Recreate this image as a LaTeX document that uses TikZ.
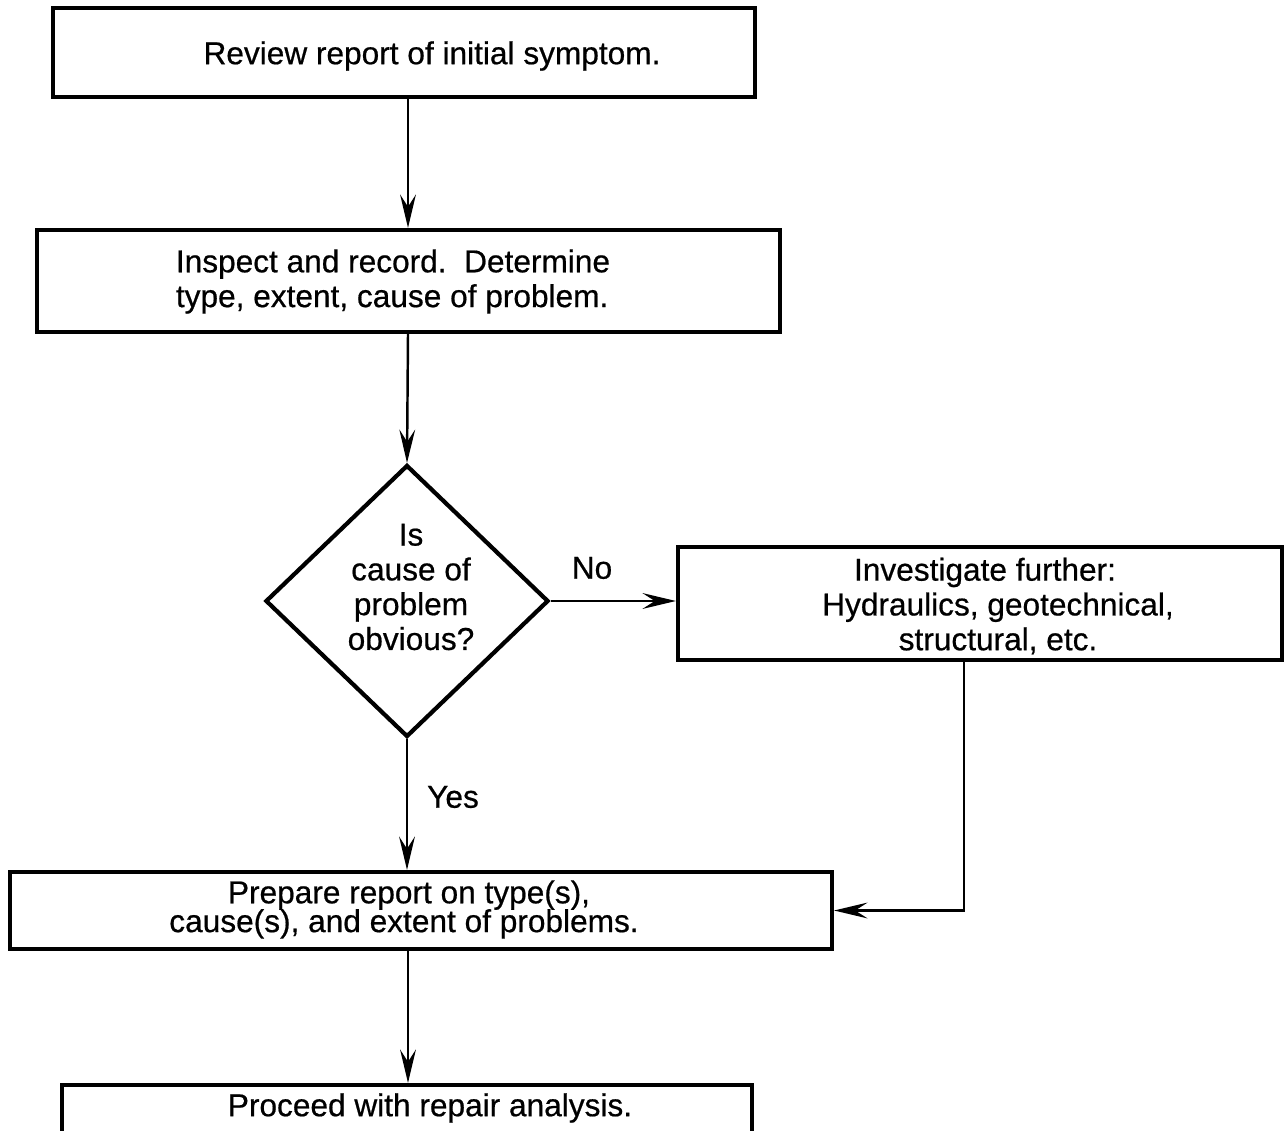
\documentclass[tikz,border=0pt]{standalone}
\usepackage{fontspec}
\setmainfont[FakeBold=0.6]{Liberation Sans}
\usetikzlibrary{shapes.geometric,arrows.meta}
% allow lines of a node to sit closer than their glyph heights
\newcommand\flowtight{\lineskiplimit=-30pt\relax}
\newcommand\flowfont{\fontsize{18}{19.8}\selectfont\flowtight}
\newcommand\flowfontcompact{\fontsize{18}{16.4}\selectfont\flowtight}
\begin{document}
\begin{tikzpicture}[x=0.02cm,y=-0.02cm,
  box/.style={draw,line width=2.4pt,rectangle,inner sep=0pt},
  decision/.style={draw,line width=2.4pt,diamond,inner sep=0pt},
  txt/.style={inner sep=0pt,align=center,font=\flowfont},
  flow/.style={line width=1.4pt,-{Stealth[length=19pt,width=9pt,inset=7pt]}},
  tag/.style={inner sep=0pt,font=\flowfont}]
\useasboundingbox (0,0) rectangle (1284,1131);
\begin{scope}
\clip (0,0) rectangle (1284,1131);
% boxes of the flow
\node[box,minimum width=702*0.02cm,minimum height=89*0.02cm] (b1) at (404,52.5) {};
\node[box,minimum width=743*0.02cm,minimum height=102*0.02cm] (b2) at (408.5,281) {};
\node[box,minimum width=604*0.02cm,minimum height=113*0.02cm] (b3) at (980,603.5) {};
\node[box,minimum width=822*0.02cm,minimum height=77*0.02cm] (b4) at (421,910.5) {};
\node[box,minimum width=690*0.02cm,minimum height=80*0.02cm] (b5) at (407,1125) {};
% decision diamond
\node[decision,minimum width=283*0.02cm,minimum height=272*0.02cm] (d) at (407,601) {};
% texts
\node[txt] (t1) at (432,56) {Review report of initial symptom.};
\node[txt,align=left] (t2) at (393,281.5) {Inspect and record.\ \ Determine\\type, extent, cause of problem.};
\node[txt] (t3) at (998,606) {\hspace*{-0.52cm}Investigate further:\\Hydraulics, geotechnical,\\structural, etc.};
\node[txt] (td) at (411,587) {Is\\cause of\\problem\\obvious?};
\node[txt,font=\flowfontcompact] (t4) at (404,909.5) {Prepare report on type(s),\hspace*{-0.2cm}\\cause(s), and extent of problems.};
\node[txt] (t5) at (430,1108) {Proceed with repair analysis.};
% connectors
\draw[flow] (b1.south -| 408,0) -- (b2.north -| 408,0);
\draw[flow] (b2.south -| 408,0) -- (d.north);
\draw[flow] (d.east) -- (b3.west |- d.east);
\draw[flow] (d.south) -- (b4.north -| d.south);
\draw[flow] (b3.south -| 964,0) |- (b4.east);
\draw[flow] (b4.south -| 408,0) -- (b5.north -| 408,0);
% branch labels
\node[tag] (no) at (592,568) {No};
\node[tag] (yes) at (453,797) {Yes};
\end{scope}
\end{tikzpicture}
\end{document}
